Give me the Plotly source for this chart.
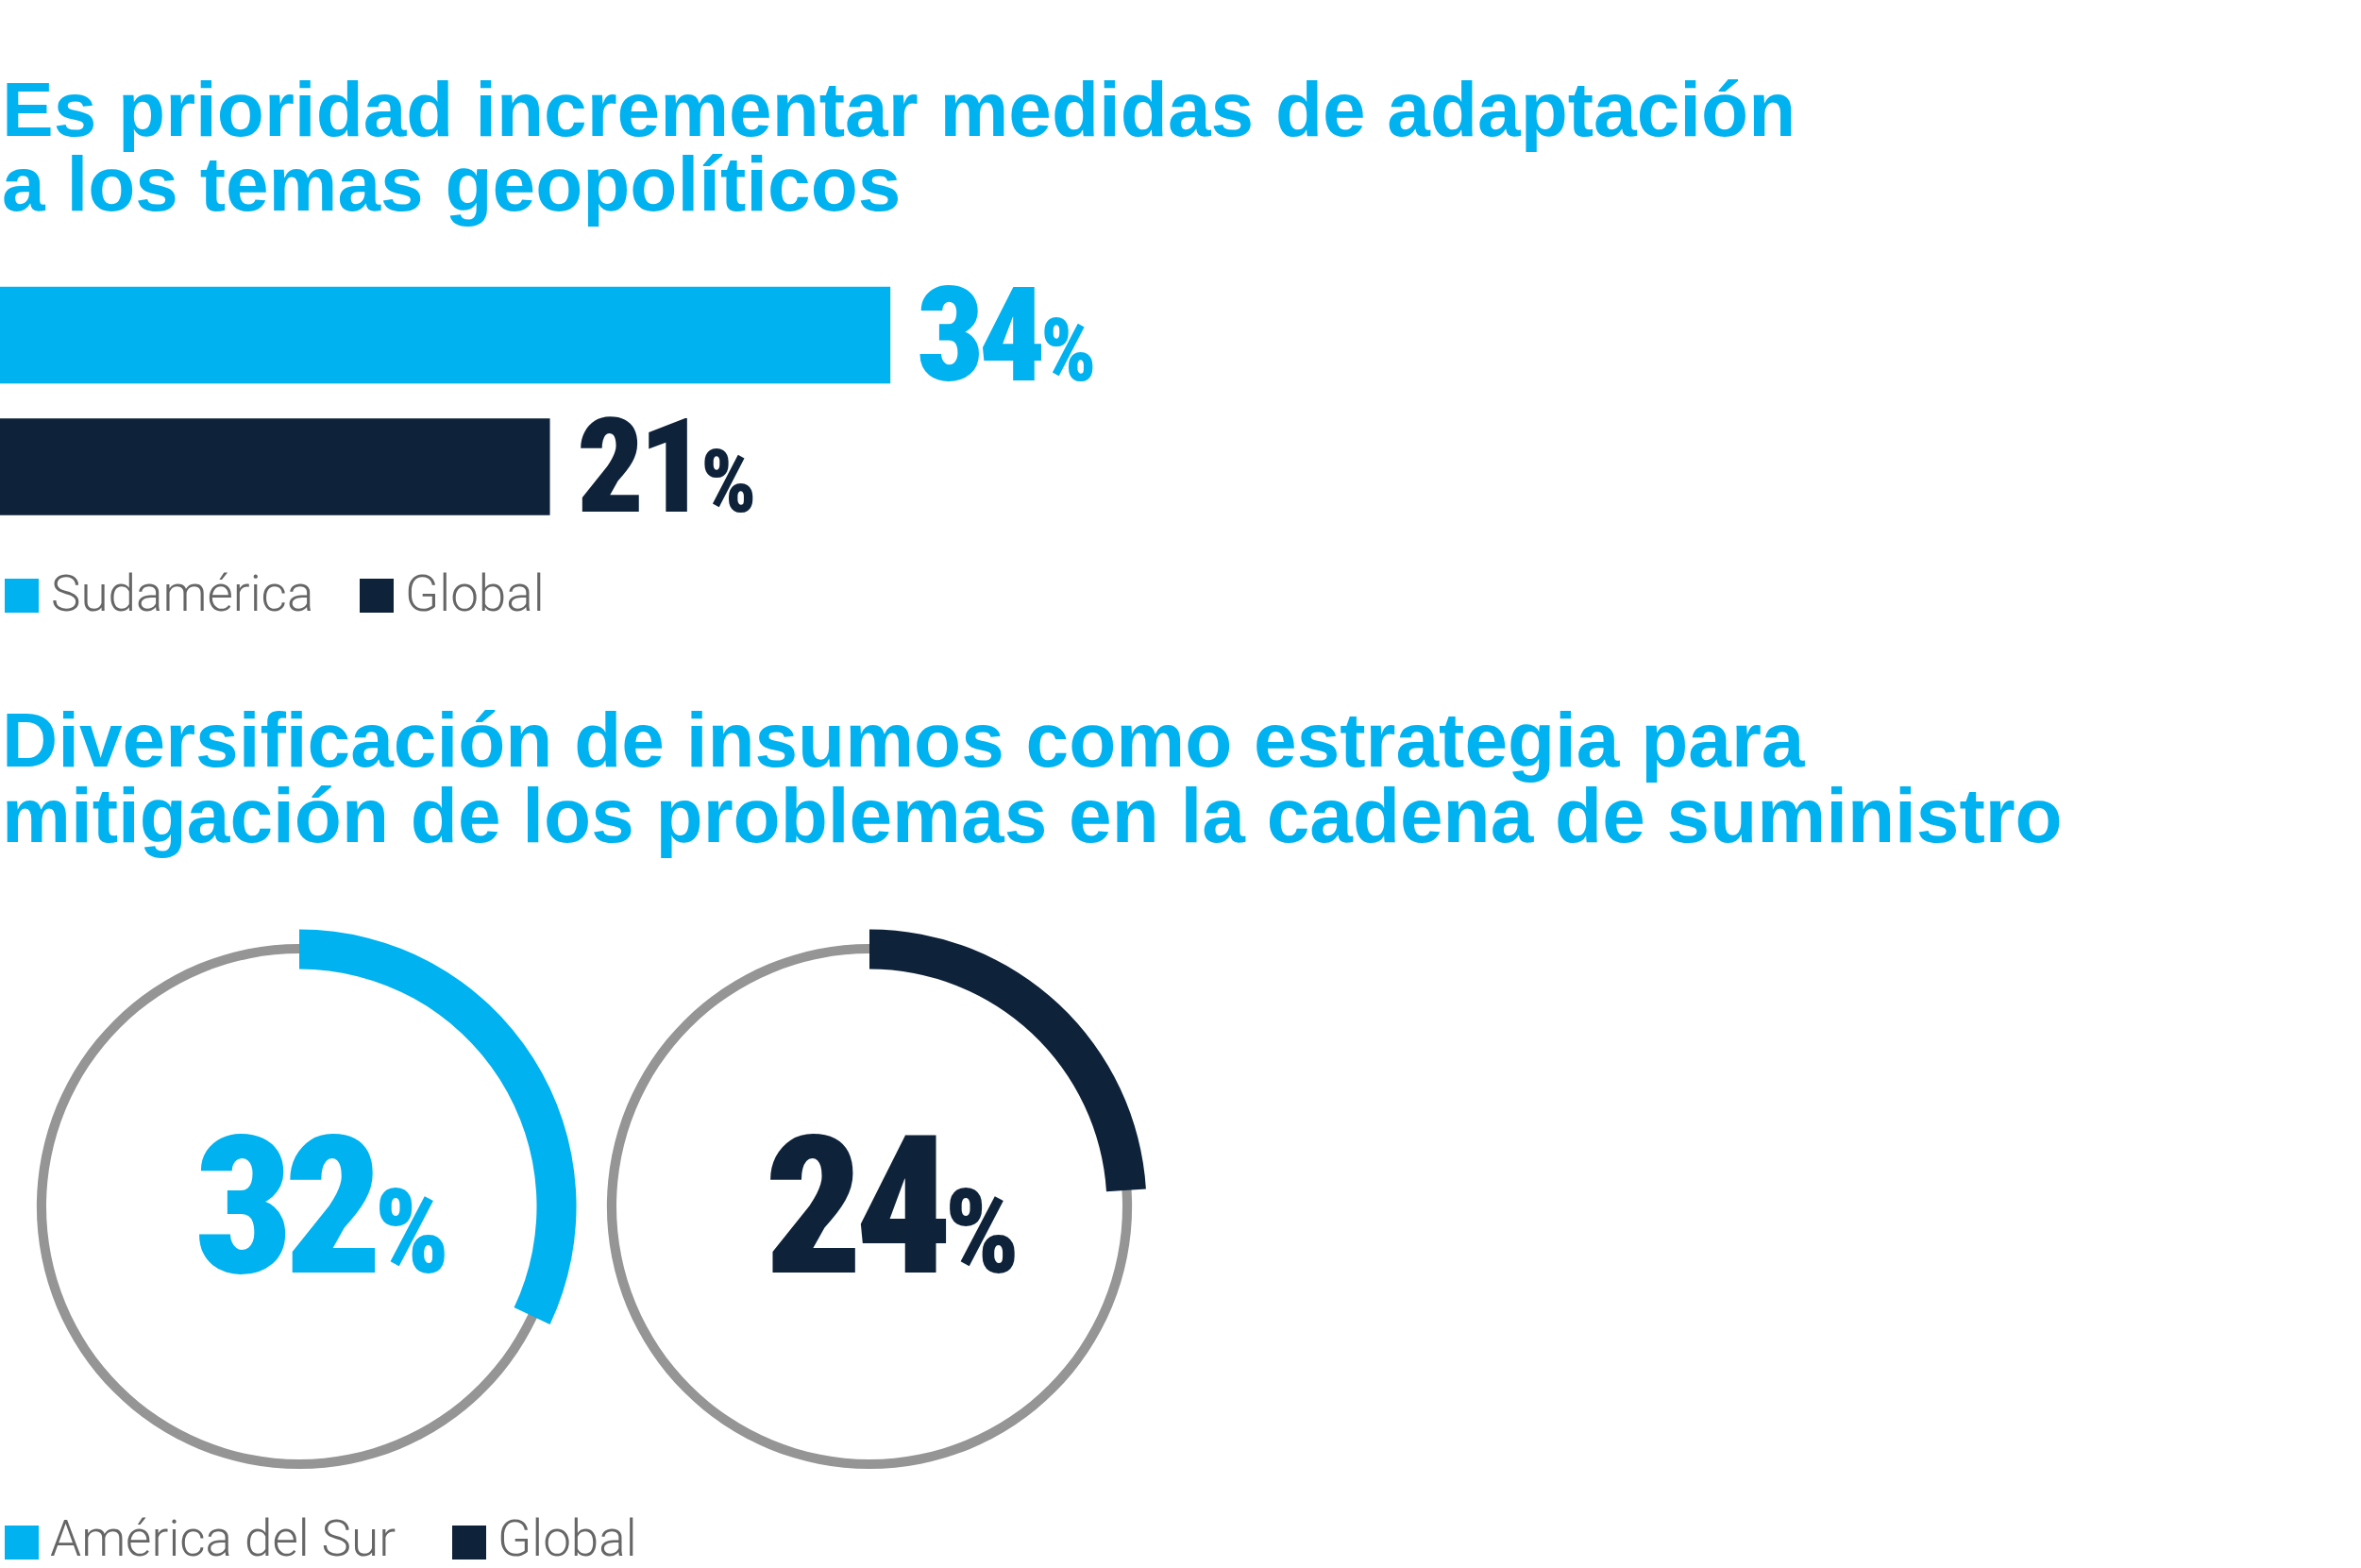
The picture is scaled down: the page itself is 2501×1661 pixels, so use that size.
#!/usr/bin/env python3
"""
Prioridades geopolíticas y cadena de suministro: Sudamérica vs Global.

Barra horizontal arriba, dos anillos de progreso abajo.
"""

import plotly.graph_objects as go

# Data
bar_groups = ['Sudamérica', 'Global']
bar_values = [34, 21]

ring_groups = ['América del Sur', 'Global']
ring_values = [32, 24]

title_top = ['Es prioridad incrementar medidas de adaptación',
             'a los temas geopolíticos']
title_bottom = ['Diversificación de insumos como estrategia para',
                'mitigación de los problemas en la cadena de suministro']

# Style
CYAN = '#00B2EF'
NAVY = '#0E223A'
RING_GREY = '#959595'
TEXT_GREY = '#666666'
series_colors = [CYAN, NAVY]

W, H = 2501, 1661
TITLE_FONT = 'Liberation Sans, Arial, sans-serif'
NUM_FONT = 'Roboto, Open Sans, sans-serif'
LEGEND_FONT = 'Roboto, Liberation Sans, sans-serif'
PX_PER_PCT = 27.74


def px(x):
    """Pixel x -> paper x."""
    return x / W


def py(y):
    """Pixel y (from top) -> paper y."""
    return 1 - y / H


def pct_label(value, small, spacing):
    """Big number with a smaller % sign, in a condensed heavy face."""
    st = f'font-stretch:75%;font-weight:900;letter-spacing:{spacing}px'
    return (f'<span style="{st}">{value}</span>'
            f'<span style="{st};font-size:{small}px">%</span>')


fig = go.Figure()

# Top panel: horizontal bars
fig.add_trace(
    go.Bar(
        x=bar_values,
        y=bar_groups,
        orientation='h',
        marker=dict(color=series_colors, line=dict(width=0)),
        hoverinfo='skip',
    )
)

annotations = []
for group, value, color in zip(bar_groups, bar_values, series_colors):
    annotations.append(dict(
        x=value, y=group, xref='x', yref='y',
        xanchor='left', yanchor='middle', xshift=26, yshift=0,
        text=pct_label(value, 92, -6), showarrow=False,
        font=dict(family=NUM_FONT, size=140, color=color, weight=900),
    ))

# Bottom panel: progress rings
ring_centers = [(317, 1278), (921, 1278)]
for (cx, cy), value, color in zip(ring_centers, ring_values, series_colors):
    r_grey = 278
    fig.add_trace(
        go.Pie(
            values=[100],
            marker=dict(colors=[RING_GREY], line=dict(width=0)),
            hole=268 / r_grey,
            sort=False,
            textinfo='none',
            hoverinfo='skip',
            showlegend=False,
            domain=dict(x=[px(cx - r_grey), px(cx + r_grey)],
                        y=[py(cy + r_grey), py(cy - r_grey)]),
        )
    )
    r_arc = 293.5
    fig.add_trace(
        go.Pie(
            values=[value, 100 - value],
            marker=dict(colors=[color, 'rgba(0,0,0,0)'], line=dict(width=0)),
            hole=251.5 / r_arc,
            sort=False,
            direction='clockwise',
            rotation=0,
            textinfo='none',
            hoverinfo='skip',
            showlegend=False,
            domain=dict(x=[px(cx - r_arc), px(cx + r_arc)],
                        y=[py(cy + r_arc), py(cy - r_arc)]),
        )
    )
    annotations.append(dict(
        x=px(cx), y=py(cy), xref='paper', yref='paper',
        xanchor='center', yanchor='middle', xshift=22, yshift=0,
        text=pct_label(value, 124, -9), showarrow=False,
        font=dict(family=NUM_FONT, size=204, color=color, weight=900),
    ))

# Titles (one annotation per line to control the baselines)
for lines, baselines in ((title_top, (144, 223)), (title_bottom, (812, 892))):
    for line, base in zip(lines, baselines):
        annotations.append(dict(
            x=0, y=py(base - 0.3465 * 82), xref='paper', yref='paper',
            xanchor='left', yanchor='middle',
            text=f'<b>{line}</b>', showarrow=False,
            font=dict(family=TITLE_FONT, size=82, color=CYAN),
        ))

# Legends drawn as swatches + text
shapes = []
legend_rows = [
    (bar_groups, 647, 649, [(5, 52), (381, 427)]),
    (ring_groups, 1648, 1652, [(5, 51), (479, 525)]),
]
for labels, base, box_bottom, slots in legend_rows:
    for label, color, (sx, tx) in zip(labels, series_colors, slots):
        shapes.append(dict(
            type='rect', xref='paper', yref='paper',
            x0=px(sx), x1=px(sx + 36), y0=py(box_bottom), y1=py(box_bottom - 36),
            fillcolor=color, line=dict(width=0), layer='above',
        ))
        annotations.append(dict(
            x=px(tx), y=py(base - 0.342 * 53), xref='paper', yref='paper',
            xanchor='left', yanchor='middle',
            text=label, showarrow=False,
            font=dict(family=LEGEND_FONT, size=53, color=TEXT_GREY, weight=300),
        ))

bar_center_top, bar_center_bottom = 355, 494.5
half_pitch = (bar_center_bottom - bar_center_top) / 2

fig.update_layout(
    width=W,
    height=H,
    margin=dict(l=0, r=0, t=0, b=0),
    paper_bgcolor='white',
    plot_bgcolor='white',
    showlegend=False,
    bargap=0.265,
    annotations=annotations,
    shapes=shapes,
    xaxis=dict(
        domain=[0, 1],
        range=[0, W / PX_PER_PCT],
        visible=False,
        fixedrange=True,
    ),
    yaxis=dict(
        type='category',
        domain=[py(bar_center_bottom + half_pitch), py(bar_center_top - half_pitch)],
        range=[1.5, -0.5],
        visible=False,
        fixedrange=True,
    ),
)

fig.write_html(
    "out.html",
    config={'displayModeBar': False},
    post_script="document.body.style.margin='0';document.body.style.overflow='hidden';",
)
